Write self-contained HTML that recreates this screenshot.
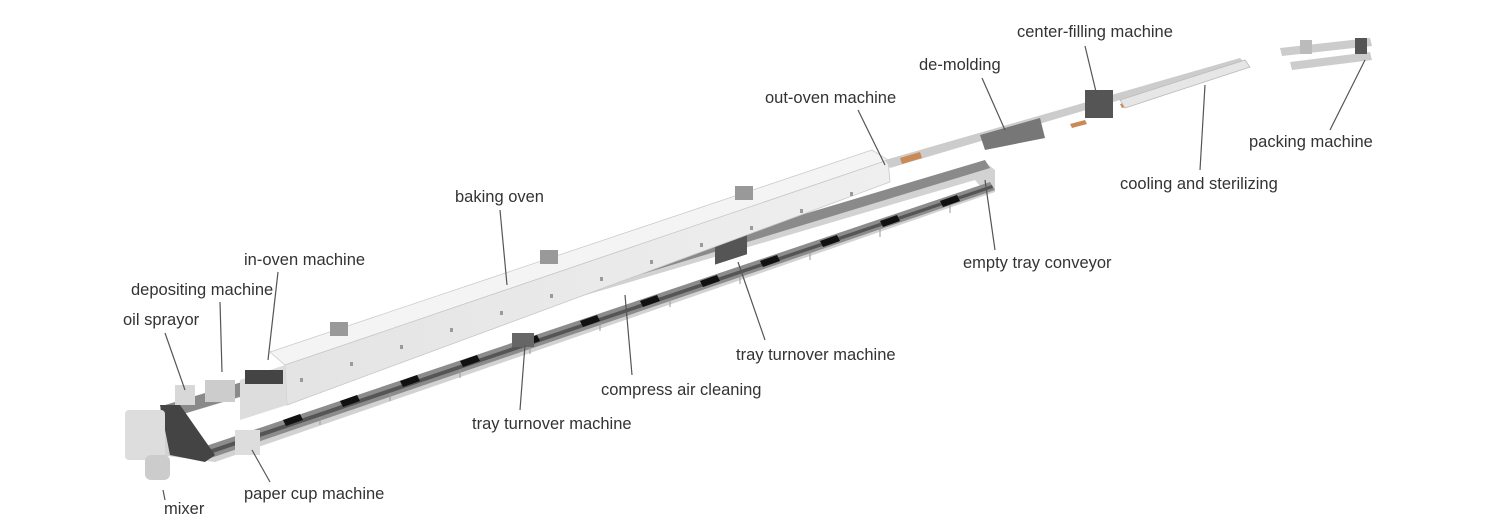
<!DOCTYPE html>
<html><head><meta charset="utf-8"><style>
html,body{margin:0;padding:0;background:#fff;}
svg{display:block;}
text{font-family:"Liberation Sans",Arial,sans-serif;font-size:16.5px;fill:#333;}
</style></head><body>
<svg width="1500" height="530" viewBox="0 0 1500 530" xmlns="http://www.w3.org/2000/svg">
<defs>
<linearGradient id="tg" x1="0" y1="0" x2="1" y2="0"><stop offset="0" stop-color="#e4e4e4"/><stop offset="1" stop-color="#efefef"/></linearGradient>
</defs>
<rect width="1500" height="530" fill="#fff"/>
<!-- conveyor loop -->
<polygon points="160,408 985,162 995,170 995,192 215,462 160,455" fill="#d2d2d2"/>
<polygon points="180,415 975,180 980,186 215,450 195,450" fill="#fff"/>
<polygon points="165,405 985,160 990,168 170,418" fill="#8a8a8a"/>
<polygon points="200,448 990,182 995,190 205,460" fill="#8c8c8c"/>
<polygon points="203,452 992,185 993,188 204,456" fill="#555"/>
<polygon points="160,405 180,405 215,455 205,462 170,455" fill="#444"/>
<g fill="#111">
<polygon points="283,420 300,414 303,420 286,426"/>
<polygon points="340,401 357,395 360,401 343,407"/>
<polygon points="400,381 417,375 420,381 403,387"/>
<polygon points="460,361 477,355 480,361 463,367"/>
<polygon points="520,341 537,335 540,341 523,347"/>
<polygon points="580,321 597,315 600,321 583,327"/>
<polygon points="640,301 657,295 660,301 643,307"/>
<polygon points="700,281 717,275 720,281 703,287"/>
<polygon points="760,261 777,255 780,261 763,267"/>
<polygon points="820,241 837,235 840,241 823,247"/>
<polygon points="880,221 897,215 900,221 883,227"/>
<polygon points="940,201 957,195 960,201 943,207"/>
</g>
<g stroke="#999" stroke-width="1">
<path d="M250,440 l0,8 M320,417 l0,8 M390,393 l0,8 M460,370 l0,8 M530,346 l0,8 M600,323 l0,8 M670,299 l0,8 M740,276 l0,8 M810,252 l0,8 M880,229 l0,8 M950,205 l0,8"/>
</g>
<rect x="512" y="333" width="22" height="14" fill="#666"/>
<rect x="715" y="245" width="32" height="20" fill="#555" transform="skewY(-18) translate(0,232)"/>
<!-- oven -->
<polygon points="270,352 872,150 888,160 285,365" fill="#f4f4f4" stroke="#ccc" stroke-width="0.8"/>
<polygon points="285,365 888,160 890,182 287,405" fill="url(#tg)" stroke="#c8c8c8" stroke-width="0.8"/>
<polygon points="240,380 285,365 287,405 240,420" fill="#ddd"/>
<g fill="#999">
<rect x="330" y="322" width="18" height="14"/>
<rect x="540" y="250" width="18" height="14"/>
<rect x="735" y="186" width="18" height="14"/>
</g>
<g fill="#9a9a9a">
<rect x="300" y="378" width="3" height="4"/><rect x="350" y="362" width="3" height="4"/><rect x="400" y="345" width="3" height="4"/><rect x="450" y="328" width="3" height="4"/><rect x="500" y="311" width="3" height="4"/><rect x="550" y="294" width="3" height="4"/><rect x="600" y="277" width="3" height="4"/><rect x="650" y="260" width="3" height="4"/><rect x="700" y="243" width="3" height="4"/><rect x="750" y="226" width="3" height="4"/><rect x="800" y="209" width="3" height="4"/><rect x="850" y="192" width="3" height="4"/>
</g>
<rect x="245" y="370" width="38" height="14" fill="#444"/>
<rect x="205" y="380" width="30" height="22" fill="#ccc"/>
<rect x="175" y="385" width="20" height="20" fill="#d8d8d8"/>
<rect x="125" y="410" width="40" height="50" fill="#ddd" rx="4"/>
<rect x="145" y="455" width="25" height="25" fill="#ccc" rx="6"/>
<rect x="235" y="430" width="25" height="25" fill="#ddd"/>
<!-- downstream conveyor -->
<polygon points="885,160 1240,58 1245,63 890,168" fill="#ccc"/>
<polygon points="980,135 1040,118 1045,138 985,150" fill="#777"/>
<g fill="#c98a55"><polygon points="900,158 920,152 922,158 902,164"/><polygon points="1070,124 1085,120 1087,124 1072,128"/><polygon points="1120,104 1135,100 1137,104 1122,108"/></g>
<rect x="1085" y="90" width="28" height="28" fill="#555"/>
<polygon points="1120,100 1245,60 1250,67 1125,108" fill="#e6e6e6" stroke="#bbb" stroke-width="0.8"/>
<g fill="#ccc"><polygon points="1280,48 1370,38 1372,46 1282,56"/><polygon points="1290,62 1370,52 1372,60 1292,70"/></g>
<rect x="1300" y="40" width="12" height="14" fill="#bbb"/>
<rect x="1355" y="38" width="12" height="16" fill="#555"/>
<g stroke="#555" stroke-width="1.2" fill="none">
<path d="M1085,46 L1098,100"/>
<path d="M982,78 L1005,130"/>
<path d="M858,110 L885,165"/>
<path d="M1365,60 L1330,130"/>
<path d="M1205,85 L1200,170"/>
<path d="M500,210 L507,285"/>
<path d="M985,180 L995,250"/>
<path d="M278,272 L268,360"/>
<path d="M220,302 L222,372"/>
<path d="M165,333 L185,390"/>
<path d="M738,262 L765,340"/>
<path d="M625,295 L632,375"/>
<path d="M525,345 L520,410"/>
<path d="M252,450 L270,482"/>
<path d="M163,490 L165,500"/>
</g>
<text x="1017" y="37">center-filling machine</text>
<text x="919" y="70">de-molding</text>
<text x="765" y="103">out-oven machine</text>
<text x="1249" y="147">packing machine</text>
<text x="1120" y="189">cooling and sterilizing</text>
<text x="455" y="202">baking oven</text>
<text x="963" y="268">empty tray conveyor</text>
<text x="244" y="265">in-oven machine</text>
<text x="131" y="295">depositing machine</text>
<text x="123" y="325">oil sprayor</text>
<text x="736" y="360">tray turnover machine</text>
<text x="601" y="395">compress air cleaning</text>
<text x="472" y="429">tray turnover machine</text>
<text x="244" y="499">paper cup machine</text>
<text x="164" y="514">mixer</text>
</svg>
</body></html>
